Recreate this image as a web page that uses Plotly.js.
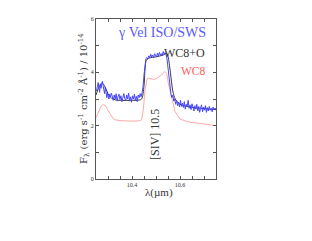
<!DOCTYPE html>
<html>
<head>
<meta charset="utf-8">
<script src="https://cdn.plot.ly/plotly-3.0.1.min.js"></script>
<style>html,body{margin:0;padding:0;background:#fff;}#chart{width:312px;height:241px;}</style>
</head>
<body>
<div id="chart"></div>
<script>
// Observed spectrum (gamma Vel ISO/SWS)
const obsWave = [10.252,10.256,10.259,10.262,10.265,10.268,10.271,10.274,10.277,10.280,10.283,10.286,10.289,10.292,10.295,10.298,10.301,10.304,10.307,10.310,
10.314,10.318,10.322,10.326,10.330,10.334,10.338,10.342,10.346,10.350,10.354,10.358,10.362,10.366,10.370,10.374,10.378,10.382,10.386,10.390,
10.394,10.398,10.402,10.406,10.410,10.414,10.418,10.422,10.426,10.430,10.434,10.438,10.442,10.446,10.450,10.454,10.458,10.462,10.466,10.470,
10.474,10.478,10.482,10.486,10.490,10.494,10.498,10.502,10.506,10.510,10.514,10.518,10.522,10.526,10.530,10.534,10.538,10.542,10.546,10.550,
10.554,10.558,10.562,10.566,10.570,10.574,10.578,10.582,10.586,10.590,10.594,10.598,10.602,10.606,10.610,10.614,10.618,10.622,10.626,10.630,
10.634,10.638,10.642,10.646,10.650,10.654,10.658,10.662,10.666,10.670,10.674,10.678,10.682,10.686,10.690,10.694,10.698,10.702,10.706,10.710,
10.714,10.718,10.722,10.726,10.730,10.734,10.738,10.742,10.746,10.750];
const obsFlux = [3.30,3.52,3.62,3.45,3.25,3.55,3.40,3.58,3.66,3.48,3.35,3.20,3.45,3.30,3.05,3.22,3.10,3.00,3.18,3.08,
3.22,3.05,2.95,3.15,3.00,3.20,2.92,3.10,3.18,2.98,3.12,2.90,3.05,3.20,3.02,2.95,3.15,3.00,3.22,2.92,
3.08,2.88,3.12,3.00,3.18,2.95,3.10,2.90,3.15,3.05,3.20,3.08,3.25,3.45,3.90,4.30,4.52,4.55,4.50,4.62,
4.55,4.68,4.58,4.65,4.55,4.70,4.62,4.58,4.72,4.60,4.75,4.65,4.70,4.62,4.78,4.68,4.74,4.66,4.50,4.10,
3.70,3.35,3.20,3.05,3.15,2.92,3.00,2.80,2.95,2.75,2.88,2.70,2.95,2.72,2.85,2.68,2.90,2.62,2.80,2.72,
2.95,2.65,2.78,2.60,2.82,2.70,2.55,2.75,2.62,2.80,2.55,2.72,2.50,2.68,2.78,2.52,2.70,2.58,2.75,2.50,
2.68,2.55,2.72,2.58,2.65,2.52,2.70,2.60,2.66,2.62];

// Model WC8+O
const wcoWave = [10.25,10.26,10.27,10.275,10.285,10.295,10.305,10.315,10.33,10.35,10.40,10.43,10.44,10.45,10.455,10.46,10.47,10.50,10.53,10.545,10.55,10.56,10.57,10.58,10.59,10.60,10.62,10.65,10.70,10.75];
const wcoFlux = [3.15,3.40,3.57,3.60,3.50,3.30,3.12,3.03,2.97,2.95,2.95,2.96,3.00,3.50,4.20,4.45,4.53,4.58,4.65,4.70,4.60,4.00,3.30,3.00,2.88,2.80,2.74,2.69,2.64,2.60];

// Model WC8
const wcWave = [10.25,10.26,10.27,10.28,10.29,10.30,10.31,10.32,10.33,10.35,10.40,10.43,10.44,10.447,10.455,10.464,10.47,10.48,10.49,10.50,10.52,10.537,10.545,10.551,10.558,10.565,10.572,10.579,10.586,10.60,10.628,10.65,10.696,10.75];
const wcFlux = [2.30,2.52,2.72,2.79,2.74,2.58,2.40,2.28,2.22,2.19,2.17,2.18,2.22,2.60,3.40,3.78,3.78,3.74,3.73,3.76,3.88,4.03,3.95,3.60,3.30,3.04,2.75,2.53,2.44,2.25,2.16,2.12,2.07,2.00];

const xTickVals = [10.3,10.35,10.4,10.45,10.5,10.55,10.6,10.65,10.7];
const xTickText = ['','','10.4','','','','10.6','',''];
const yTickVals = [0,1,2,3,4,5,6];
const yTickText = ['0','','2','','4','','6'];

const serif = 'Liberation Serif, DejaVu Serif, serif';
const wideSerif = 'DejaVu Serif, Liberation Serif, serif';

const traces = [
  {x: wcWave, y: wcFlux, mode: 'lines', line: {color: '#ffa8a8', width: 1}, hoverinfo: 'skip'},
  {x: wcoWave, y: wcoFlux, mode: 'lines', line: {color: '#3a3a3a', width: 1, shape: 'spline'}, hoverinfo: 'skip'},
  {x: obsWave, y: obsFlux, mode: 'lines', line: {color: '#4646ff', width: 1}, hoverinfo: 'skip'}
];

const axisCommon = {
  showgrid: false, zeroline: false, showline: true, linecolor: '#555', linewidth: 1,
  mirror: 'ticks', ticks: 'inside', ticklen: 3, tickcolor: '#555', tickwidth: 1,
  tickfont: {family: serif, size: 6, color: '#333'}, tickmode: 'array'
};

const layout = {
  width: 312, height: 241,
  margin: {l: 96, r: 96, t: 19, b: 62, pad: 0},
  paper_bgcolor: '#fff', plot_bgcolor: '#fff',
  showlegend: false,
  xaxis: Object.assign({}, axisCommon, {
    range: [10.25, 10.75], tickvals: xTickVals, ticktext: xTickText
  }),
  yaxis: Object.assign({}, axisCommon, {
    range: [0, 6], tickvals: yTickVals, ticktext: yTickText
  }),
  annotations: [
    {xref: 'paper', yref: 'paper', x: 0.525, y: -0.086, xanchor: 'center', yanchor: 'middle', showarrow: false,
     text: 'λ(µm)', font: {family: serif, size: 11, color: '#333'}},
    {xref: 'paper', yref: 'paper', x: -0.1, y: 0.5, xanchor: 'center', yanchor: 'middle', showarrow: false,
     textangle: -90,
     text: 'F<sub>λ</sub> (erg s<sup>-1</sup> cm<sup>-2</sup> Å<sup>-1</sup>) / 10<sup>-14</sup>',
     font: {family: wideSerif, size: 10, color: '#333'}},
    {xref: 'paper', yref: 'paper', x: 0.933, y: 0.914, xanchor: 'right', yanchor: 'middle', showarrow: false,
     text: 'γ Vel ISO/SWS', font: {family: serif, size: 14, color: '#5a5aff'}},
    {xref: 'paper', yref: 'paper', x: 0.928, y: 0.79, xanchor: 'right', yanchor: 'middle', showarrow: false,
     text: 'WC8+O', font: {family: serif, size: 12, color: '#333'}},
    {xref: 'paper', yref: 'paper', x: 0.935, y: 0.674, xanchor: 'right', yanchor: 'middle', showarrow: false,
     text: 'WC8', font: {family: serif, size: 11.5, color: '#ff5c5c'}},
    {xref: 'paper', yref: 'paper', x: 0.49, y: 0.28, xanchor: 'center', yanchor: 'middle', showarrow: false,
     textangle: -90, text: '[SIV] 10.5', font: {family: serif, size: 12, color: '#333'}}
  ]
};

Plotly.newPlot('chart', traces, layout, {displayModeBar: false, staticPlot: true});
</script>
</body>
</html>
